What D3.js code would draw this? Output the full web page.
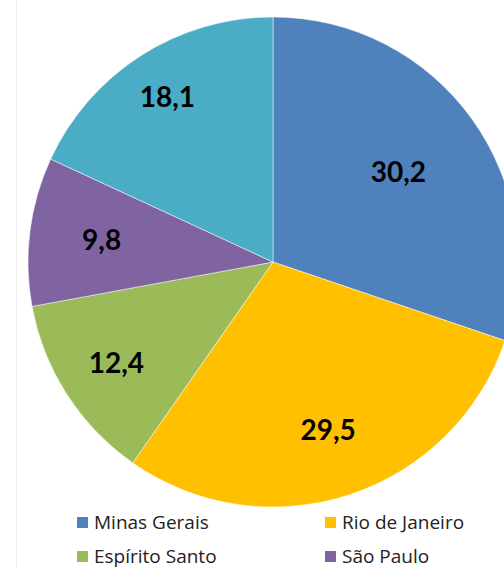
<!DOCTYPE html>
<html>
<head>
<meta charset="utf-8">
<script src="https://cdn.jsdelivr.net/npm/d3@7"></script>
<style>
  html, body { margin: 0; padding: 0; background: #fff; }
</style>
</head>
<body>
<div id="chart"></div>
<script>
// chart data
var states = ["Minas Gerais", "Rio de Janeiro", "Espírito Santo", "São Paulo", "Outros"];
var shares = [30.2, 29.5, 12.4, 9.8, 18.1];
var colors = ["#4F81BD", "#FFC000", "#9BBB59", "#8064A2", "#4BACC6"];

// layout (label distance from centre, as a fraction of radius - Excel "best fit")
var labelFrac = [0.63, 0.72, 0.76, 0.705, 0.80];

var width = 504, height = 567;
var cx = 273, cy = 262, radius = 245;

var svg = d3.select("#chart")
    .append("svg")
    .attr("width", width)
    .attr("height", height);

// faint frame line on the left
svg.append("line")
    .attr("x1", 16.5).attr("x2", 16.5)
    .attr("y1", 0).attr("y2", height)
    .attr("stroke", "#eeeeee")
    .attr("stroke-width", 1);

var pie = d3.pie().sort(null).value(d => d);
var arcs = pie(shares);

var arc = d3.arc().innerRadius(0).outerRadius(radius);

var g = svg.append("g").attr("transform", "translate(" + cx + "," + cy + ")");

g.selectAll("path")
  .data(arcs)
  .enter()
  .append("path")
  .attr("d", arc)
  .attr("fill", (d, i) => colors[i])
  .attr("stroke", "#ffffff")
  .attr("stroke-width", 0.5);

// value labels
g.selectAll("text.val")
  .data(arcs)
  .enter()
  .append("text")
  .attr("class", "val")
  .attr("transform", (d, i) => {
    var r = radius * labelFrac[i];
    var la = d3.arc().innerRadius(r).outerRadius(r);
    var c = la.centroid(d);
    return "translate(" + c[0] + "," + c[1] + ")";
  })
  .attr("text-anchor", "middle")
  .attr("dy", "0.36em")
  .style("font-family", "Lato, 'Open Sans', sans-serif")
  .style("font-weight", "bold")
  .style("font-size", "28px")
  .style("fill", "#000")
  .text(d => d3.format(".1f")(d.data).replace(".", ","));

// legend (two columns, fifth item falls outside the picture)
var legendItems = states.slice(0, 4);
var legend = svg.append("g");
var item = legend.selectAll("g")
  .data(legendItems)
  .enter()
  .append("g")
  .attr("transform", (d, i) => "translate(" + (i % 2 === 0 ? 77 : 325) + "," + (517 + Math.floor(i / 2) * 34) + ")");

item.append("rect")
  .attr("width", 11)
  .attr("height", 11)
  .attr("fill", (d, i) => colors[i]);

item.append("text")
  .attr("x", 17)
  .attr("y", 11.5)
  .style("font-family", "'Open Sans', Lato, sans-serif")
  .style("font-size", "19px")
  .style("fill", "#222")
  .text(d => d);
</script>
</body>
</html>
